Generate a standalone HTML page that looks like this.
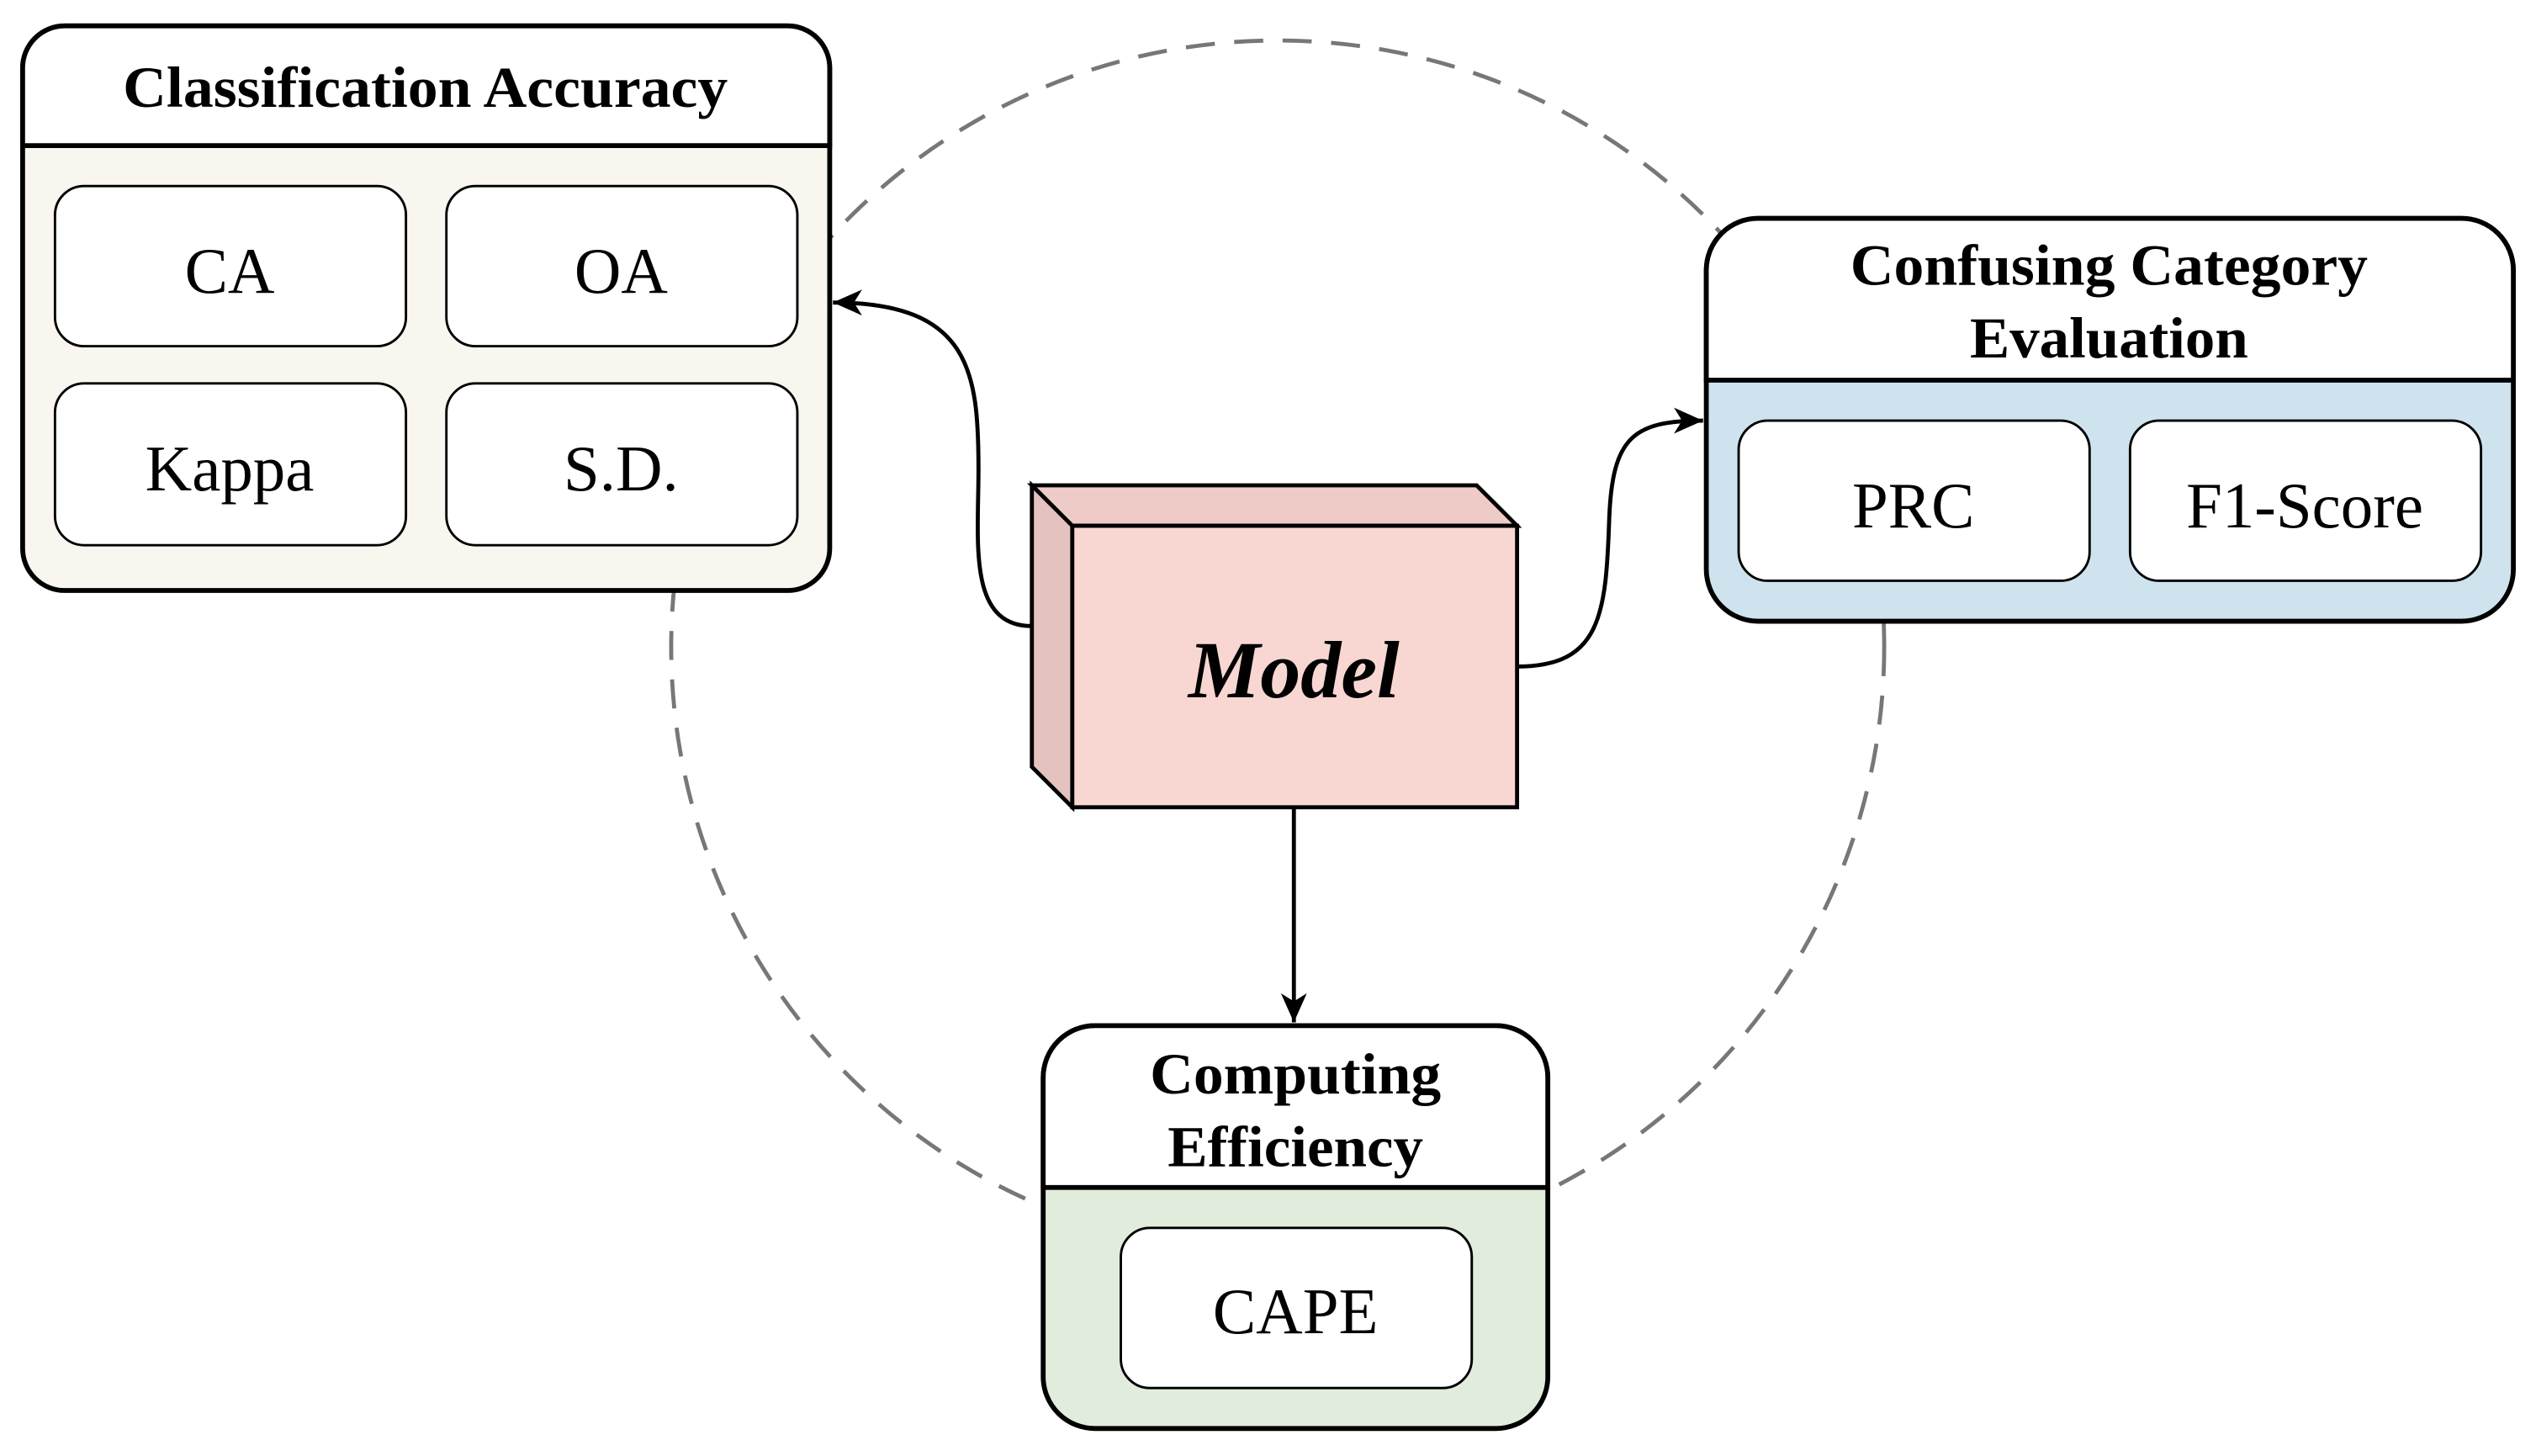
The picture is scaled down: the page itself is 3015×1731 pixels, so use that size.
<!DOCTYPE html>
<html><head><meta charset="utf-8"><style>html,body{margin:0;padding:0;background:#fff}svg{display:block}</style></head>
<body>
<svg width="3015" height="1731" viewBox="0 0 1568 900" preserveAspectRatio="none" xmlns="http://www.w3.org/2000/svg" font-family="'Liberation Serif', serif">
<defs><marker id="b" markerWidth="20" markerHeight="20" refX="18" refY="8" orient="auto" markerUnits="userSpaceOnUse"><path d="M0,0 L18,8 L0,16 L5,8 z" fill="#000"/></marker></defs>
<circle cx="790" cy="400" r="375" fill="none" stroke="#777" stroke-width="2.5" stroke-dasharray="18 12"/>
<rect x="14" y="16" width="499" height="349" rx="26" fill="#f8f6ee" stroke="#000" stroke-width="3"/>
<path d="M14,90 V42 A26,26 0 0 1 40,16 H487 A26,26 0 0 1 513,42 V90 Z" fill="#fff" stroke="#000" stroke-width="3"/>
<g fill="#fff" stroke="#000" stroke-width="1.5">
<rect x="34" y="115" width="217" height="99" rx="18"/><rect x="276" y="115" width="217" height="99" rx="18"/>
<rect x="34" y="237" width="217" height="100" rx="18"/><rect x="276" y="237" width="217" height="100" rx="18"/>
</g>
<rect x="1055" y="135" width="499" height="249" rx="32" fill="#cfe3ee" stroke="#000" stroke-width="3"/>
<path d="M1055,235 V167 A32,32 0 0 1 1087,135 H1522 A32,32 0 0 1 1554,167 V235 Z" fill="#fff" stroke="#000" stroke-width="3"/>
<g fill="#fff" stroke="#000" stroke-width="1.5">
<rect x="1075" y="260" width="217" height="99" rx="18"/><rect x="1317" y="260" width="217" height="99" rx="18"/></g>
<rect x="645" y="634" width="312" height="249" rx="32" fill="#e2ecdc" stroke="#000" stroke-width="3"/>
<path d="M645,734 V666 A32,32 0 0 1 677,634 H925 A32,32 0 0 1 957,666 V734 Z" fill="#fff" stroke="#000" stroke-width="3"/>
<rect x="693" y="759" width="217" height="99" rx="18" fill="#fff" stroke="#000" stroke-width="1.5"/>
<g stroke="#000" stroke-width="2.5">
<path d="M638,300 L913,300 L938,325 L663,325 Z" fill="#efcbc7"/>
<path d="M638,300 L663,325 L663,499 L638,474 Z" fill="#e3c2bf"/>
<rect x="663" y="325" width="275" height="174" fill="#f8d7d3"/>
</g>
<g fill="none" stroke="#000" stroke-width="2.5">
<path d="M638,387 C598,387 605,335 605,290 C605,230 600,187 515,187" marker-end="url(#b)"/>
<path d="M938,412 C990,412 993,380 995,320 C997,270 1010,260 1053,260" marker-end="url(#b)"/>
<path d="M800,499 V632" marker-end="url(#b)"/>
</g>
<g font-weight="bold" font-size="36" fill="#000" lengthAdjust="spacingAndGlyphs">
<text x="76" y="66" textLength="374" lengthAdjust="spacingAndGlyphs">Classification Accuracy</text>
<text x="1144" y="176" textLength="320" lengthAdjust="spacingAndGlyphs">Confusing Category</text>
<text x="1218" y="221" textLength="172" lengthAdjust="spacingAndGlyphs">Evaluation</text>
<text x="711" y="676" textLength="180" lengthAdjust="spacingAndGlyphs">Computing</text>
<text x="722" y="721" textLength="158" lengthAdjust="spacingAndGlyphs">Efficiency</text>
</g>
<g font-size="40" text-anchor="middle" fill="#000">
<text x="142" y="181">CA</text><text x="384" y="181">OA</text>
<text x="142" y="303">Kappa</text><text x="384" y="303">S.D.</text>
<text x="1183" y="326">PRC</text><text x="1425" y="326">F1-Score</text>
<text x="801" y="824">CAPE</text>
</g>
<text x="800" y="431" font-size="50" font-weight="bold" font-style="italic" text-anchor="middle">Model</text>
</svg>
</body></html>
